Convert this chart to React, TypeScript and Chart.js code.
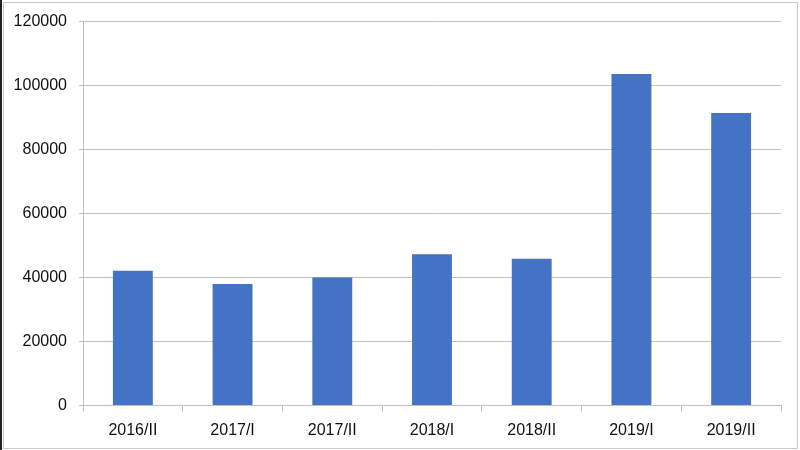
import React, { useEffect, useRef } from "react";
import { Chart, registerables } from "chart.js";

Chart.register(...registerables);

const categories = ["2016/II", "2017/I", "2017/II", "2018/I", "2018/II", "2019/I", "2019/II"];
const values = [42100, 38000, 40000, 47300, 45900, 103600, 91400];
const yMin = 0;
const yMax = 120000;
const yStep = 20000;

export default function App() {
  const ref = useRef<HTMLCanvasElement>(null);
  useEffect(() => {
    document.body.style.margin = "0";
    const ctx = ref.current!;
    const chart = new Chart(ctx, {
      type: "bar",
      data: {
        labels: categories,
        datasets: [
          {
            data: values,
            backgroundColor: "#4472c4",
            borderWidth: 0,
            barPercentage: 0.4,
            categoryPercentage: 1,
          },
        ],
      },
      options: {
        animation: false,
        responsive: false,
        maintainAspectRatio: false,
        layout: { padding: { top: 21, right: 19, left: 0, bottom: 0 } },
        plugins: { legend: { display: false }, tooltip: { enabled: false } },
        scales: {
          x: {
            grid: {
              offset: true,
              drawOnChartArea: false,
              drawTicks: true,
              tickLength: 6,
              color: "#bfbfbf",
            },
            border: { display: true, color: "#bfbfbf" },
            ticks: {
              color: "#111",
              font: { family: "'Liberation Sans', Arial, sans-serif", size: 16 },
              padding: 9,
              maxRotation: 0,
            },
            afterFit: (s: any) => {
              s.height = 44.5;
            },
          },
          y: {
            min: yMin,
            max: yMax,
            ticks: {
              stepSize: yStep,
              color: "#111",
              font: { family: "'Liberation Sans', Arial, sans-serif", size: 16 },
              padding: 12,
              callback: (v: any) => String(v),
            },
            grid: { color: "#bfbfbf", tickLength: 4, drawTicks: true },
            border: { display: true, color: "#bfbfbf" },
            afterFit: (s: any) => {
              s.width = 83;
            },
          },
        },
      },
    });
    return () => chart.destroy();
  }, []);
  return (
    <div style={{ position: "relative", width: 800, height: 450, background: "#fff" }}>
      <canvas ref={ref} width={800} height={450} style={{ position: "absolute", left: 0, top: 0 }} />
      <div
        style={{
          position: "absolute",
          left: 3,
          top: 2,
          width: 793,
          height: 445,
          border: "1px solid #c8c8c8",
          pointerEvents: "none",
        }}
      />
      <div style={{ position: "absolute", left: 0, top: 0, width: 2, height: 450, background: "#222" }} />
    </div>
  );
}
